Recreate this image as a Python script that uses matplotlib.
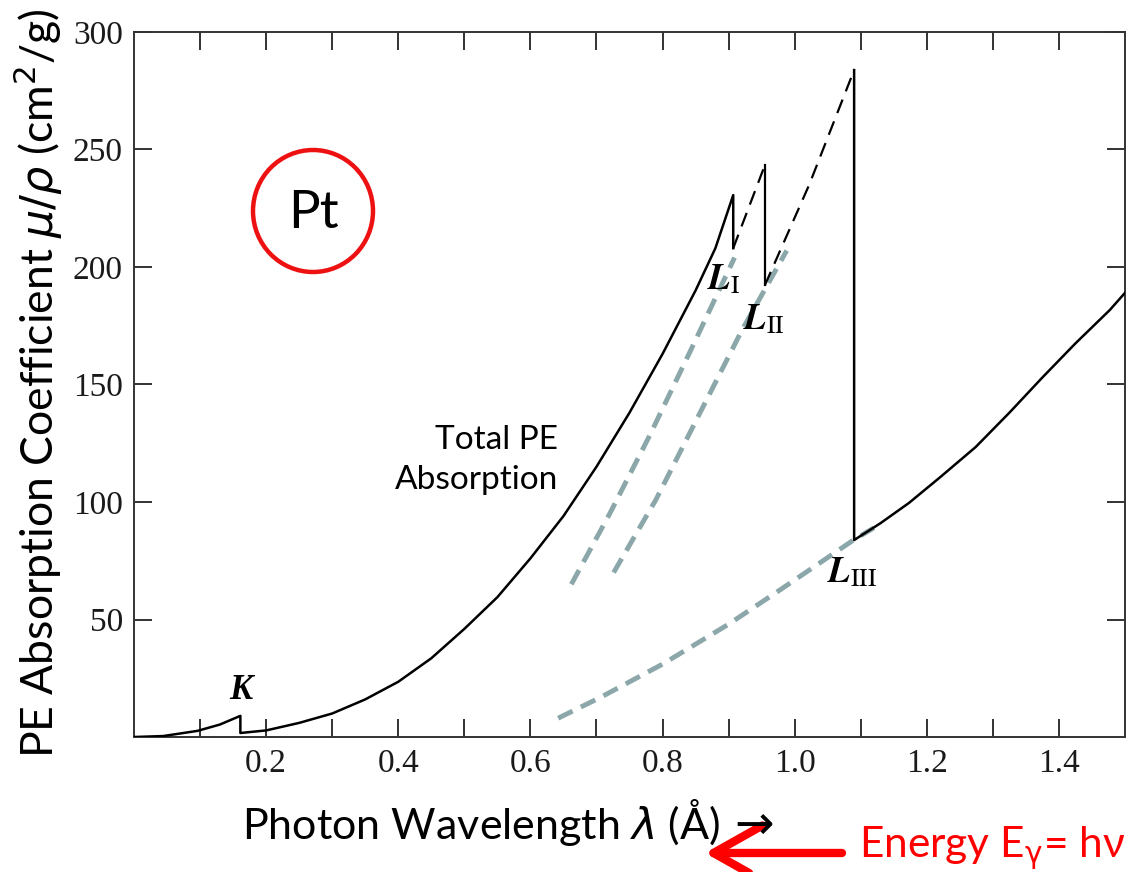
import matplotlib
matplotlib.use("Agg")
import matplotlib.pyplot as plt
from matplotlib.patches import Ellipse

# photoelectric absorption of Pt
# solid curve from 0 up to the L_I edge (K edge jump included)
lam_main = [0.0, 0.044, 0.096, 0.13, 0.161, 0.161, 0.2, 0.25, 0.3, 0.35, 0.4,
            0.45, 0.5, 0.55, 0.6, 0.65, 0.7, 0.75, 0.8, 0.85, 0.88, 0.907, 0.907]
mu_main = [0.0, 0.4, 2.6, 5.3, 9.0, 1.7, 2.8, 6.0, 10.0, 16.0, 23.5,
           33.5, 46.0, 59.5, 76.0, 94.0, 115.0, 138.0, 163.0, 190.0, 208.0, 230.6, 208.0]

# dashed between L_I and L_II
lam_l1_l2 = [0.907, 0.955]
mu_l1_l2 = [208.0, 243.4]
# L_II edge
lam_l2_edge = [0.955, 0.955]
mu_l2_edge = [243.4, 192.3]
# dashed between L_II and L_III
lam_l2_l3 = [0.955, 1.022, 1.090]
mu_l2_l3 = [192.3, 235.0, 283.8]
# L_III edge and the tail
lam_tail = [1.090, 1.090, 1.13, 1.173, 1.22, 1.274, 1.325, 1.375, 1.425, 1.477, 1.5]
mu_tail = [283.8, 83.8, 91.0, 99.6, 110.5, 123.4, 138.0, 153.0, 167.5, 181.7, 189.0]

# grey extrapolations (added on the slide)
lam_ext1 = [0.662, 0.72, 0.78, 0.84, 0.909]
mu_ext1 = [65.0, 95.0, 128.0, 163.0, 204.0]
lam_ext2 = [0.726, 0.79, 0.855, 0.92, 0.988]
mu_ext2 = [70.0, 101.0, 137.0, 173.0, 207.0]
lam_ext3 = [0.642, 0.707, 0.8, 0.9, 0.98, 1.09, 1.12]
mu_ext3 = [8.0, 17.0, 31.0, 48.0, 63.0, 84.0, 89.0]

x_major = [0.2, 0.4, 0.6, 0.8, 1.0, 1.2, 1.4]
x_minor = [0.1, 0.3, 0.5, 0.7, 0.9, 1.1, 1.3]
y_ticks = [50, 100, 150, 200, 250, 300]

W, H = 1130, 872


def fpx(x, y):
    # figure pixel (from top-left) -> figure fraction
    return x / W, 1 - y / H


fig = plt.figure(figsize=(W / 100, H / 100), dpi=100)
ax = fig.add_axes([134 / W, (H - 737) / H, (1125 - 134) / W, (737 - 32) / H])

grey = "#8ba7a9"
for lx, ly in [(lam_ext1, mu_ext1), (lam_ext2, mu_ext2), (lam_ext3, mu_ext3)]:
    ax.plot(lx, ly, color=grey, lw=3.5, dashes=(3.3, 1.9), zorder=1)

ax.plot(lam_main, mu_main, color="black", lw=1.8, zorder=3)
ax.plot(lam_l1_l2, mu_l1_l2, color="black", lw=1.6, dashes=(6.5, 4), zorder=3)
ax.plot(lam_l2_edge, mu_l2_edge, color="black", lw=1.6, zorder=3)
ax.plot(lam_l2_l3, mu_l2_l3, color="black", lw=1.6, dashes=(6.5, 4), zorder=3)
ax.plot(lam_tail, mu_tail, color="black", lw=1.8, zorder=3)

ax.set_xlim(0, 1.5)
ax.set_ylim(0, 300)
ax.set_xticks(x_major)
ax.set_xticks(x_minor, minor=True)
ax.set_yticks(y_ticks)
ax.tick_params(which="both", direction="in", length=13, width=1.3, top=True, right=True,
               colors="#222222", labelsize=24, pad=8)
for lbl in ax.get_xticklabels() + ax.get_yticklabels():
    lbl.set_fontfamily("Liberation Serif")
    lbl.set_color("#1a1a1a")
for s in ax.spines.values():
    s.set_linewidth(1.4)
    s.set_color("#333333")

# edge labels
serif = "Liberation Serif"
ax.text(0.161, 20, "K", family=serif, style="italic", weight="bold", fontsize=25,
        ha="center", va="center")
for txt, lx, ly in [(r"$\boldsymbol{L}_{\mathrm{I}}$", 0.893, 195),
                    (r"$\boldsymbol{L}_{\mathrm{II}}$", 0.953, 178),
                    (r"$\boldsymbol{L}_{\mathrm{III}}$", 1.087, 70)]:
    ax.text(lx, ly, txt, math_fontfamily="stix", fontsize=26, ha="center", va="center")

sans = ["Lato", "DejaVu Sans"]
ax.text(*fpx(558, 440), "Total PE", transform=fig.transFigure, family=sans,
        fontsize=24, ha="right", va="center")
ax.text(*fpx(558, 480), "Absorption", transform=fig.transFigure, family=sans,
        fontsize=24, ha="right", va="center")

# Pt badge
ring = Ellipse(fpx(313, 211), 120 / W, 122 / H, transform=fig.transFigure,
               fill=False, edgecolor="#ee1111", lw=3.2)
fig.patches.append(ring)
fig.text(*fpx(313, 213), "Pt", family=sans, fontsize=38, ha="center", va="center")

# axis labels
fig.text(*fpx(720, 822), r"Photon Wavelength $\lambda$ (Å)", family=sans,
         math_fontfamily="dejavusans", fontsize=31, ha="right", va="center")
fig.text(*fpx(734, 826), "→", family="DejaVu Sans", fontsize=34, ha="left", va="center")
fig.text(*fpx(38, 383), r"PE Absorption Coefficient $\mu/\rho$ (cm$^2$/g)", family=sans,
         math_fontfamily="dejavusans", fontsize=32, rotation=90, ha="center", va="center")

# energy arrow
ax.annotate("", xy=fpx(705, 853), xytext=fpx(842, 853), xycoords="figure fraction",
            textcoords="figure fraction",
            arrowprops=dict(arrowstyle="->,head_length=1.6,head_width=0.9", color="red",
                            lw=6, mutation_scale=22, shrinkA=0, shrinkB=0))
fig.text(*fpx(1125, 848), r"Energy E$_{\mathrm{\gamma}}$= hν", family=sans,
         math_fontfamily="dejavusans", color="red", fontsize=30.5, ha="right", va="center")

fig.savefig("out.png", dpi=100)
